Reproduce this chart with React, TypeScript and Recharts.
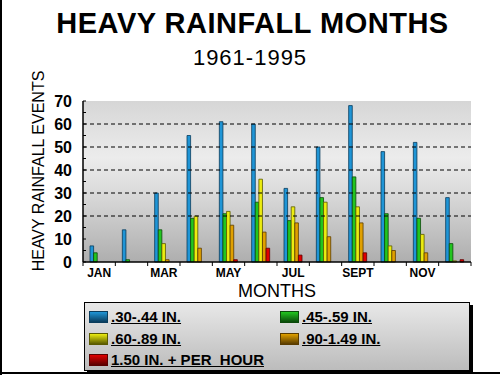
import React from 'react';
import { BarChart, Bar, XAxis, YAxis, CartesianGrid, ReferenceLine } from 'recharts';

// datos
const months = ['JAN', 'FEB', 'MAR', 'APR', 'MAY', 'JUN', 'JUL', 'AUG', 'SEPT', 'OCT', 'NOV', 'DEC'];
const in030 = [7, 14, 30, 55, 61, 60, 32, 50, 68, 48, 52, 28];
const in045 = [4, 1, 14, 19, 21, 26, 18, 28, 37, 21, 19, 8];
const in060 = [0, 0, 8, 20, 22, 36, 24, 26, 24, 7, 12, 0.5];
const in090 = [0, 0, 1, 6, 16, 13, 17, 11, 17, 5, 4, 0];
const in150 = [0, 0, 0, 0, 1, 6, 3, 0, 4, 0, 0, 1];
const yTicks = [0, 5, 10, 15, 20, 25, 30, 35, 40, 45, 50, 55, 60, 65, 70];
const gridLines = [20, 30, 40, 50, 60];

const series = [
  { key: 'a', label: '.30-.44 IN.', fill: '#1f95d6', stroke: '#0a3c5c', values: in030 },
  { key: 'b', label: '.45-.59 IN.', fill: '#22c51f', stroke: '#0b4a0a', values: in045 },
  { key: 'c', label: '.60-.89 IN.', fill: '#ecec10', stroke: '#5a5a00', values: in060 },
  { key: 'd', label: '.90-1.49 IN.', fill: '#e0a000', stroke: '#5a3c00', values: in090 },
  { key: 'e', label: '1.50 IN. + PER  HOUR', fill: '#e00000', stroke: '#5a0000', values: in150 },
];

const chartData = months.map((m, i) => {
  const row: any = { month: m };
  series.forEach(s => { row[s.key] = s.values[i]; });
  return row;
});

const W = 500;
const H = 375;
const margin = { top: 101, right: 29, left: 43, bottom: 83 };
const Y_W = 40;
const X_H = 30;
const halfBand = (W - margin.left - Y_W - margin.right) / months.length / 2;

const font = 'Liberation Sans, Arial, sans-serif';

const YTick = (props: any) => {
  const { x, y, payload } = props;
  const axisX = x + 11;
  const major = payload.value % 10 === 0;
  return (
    <g>
      <line x1={axisX} x2={axisX + 3} y1={y} y2={y} stroke="#000" />
      {major && (
        <text x={x} y={y} dy={6} textAnchor="end" fontFamily={font} fontWeight="bold" fontSize={16} fill="#000">
          {payload.value}
        </text>
      )}
    </g>
  );
};

const XTick = (props: any) => {
  const { x, y, payload, index } = props;
  const axisY = y - 6;
  return (
    <g>
      <line x1={x - halfBand} x2={x - halfBand} y1={axisY} y2={axisY + 4} stroke="#000" />
      {index === months.length - 1 && (
        <line x1={x + halfBand} x2={x + halfBand} y1={axisY} y2={axisY + 4} stroke="#000" />
      )}
      {index % 2 === 0 && (
        <text x={x} y={axisY} dy={15} textAnchor="middle" fontFamily={font} fontWeight="bold" fontSize={12} fill="#000">
          {payload.value}
        </text>
      )}
    </g>
  );
};

export default function App() {
  return (
    <div style={{ position: 'absolute', left: 0, top: 0, width: W, height: H, background: '#fff', fontFamily: font, overflow: 'hidden' }}>
      {/* marco */}
      <div style={{ position: 'absolute', left: 0, top: 0, width: 2, height: H, background: '#000' }} />
      <div style={{ position: 'absolute', left: 0, top: 372, width: W, height: 2, background: '#000' }} />

      <div style={{ position: 'absolute', left: 0, top: 6, width: 505, textAlign: 'center', fontSize: 29, fontWeight: 'bold', letterSpacing: 0.5, lineHeight: '34px' }}>
        HEAVY RAINFALL MONTHS
      </div>
      <div style={{ position: 'absolute', left: 0, top: 45, width: 500, textAlign: 'center', fontSize: 22, letterSpacing: 1, lineHeight: '26px' }}>
        1961-1995
      </div>

      <div style={{ position: 'absolute', left: 0, top: 0 }}>
        <BarChart width={W} height={H} data={chartData} margin={margin} barCategoryGap="22%" barGap={0}>
          <defs>
            <linearGradient id="bg" x1="0" y1="0" x2="0" y2="1">
              <stop offset="0%" stopColor="#d6d6d6" />
              <stop offset="35%" stopColor="#ececec" />
              <stop offset="55%" stopColor="#dcdcdc" />
              <stop offset="100%" stopColor="#aeaeae" />
            </linearGradient>
          </defs>
          <CartesianGrid horizontal={false} vertical={false} fill="url(#bg)" />
          {gridLines.map(v => (
            <ReferenceLine key={v} y={v} stroke="#000" strokeDasharray="4 3" />
          ))}
          <XAxis
            dataKey="month"
            height={X_H}
            interval={0}
            tickSize={4}
            tickMargin={2}
            tickLine={false}
            axisLine={{ stroke: '#000', strokeWidth: 1.5 }}
            tick={<XTick />}
          />
          <XAxis xAxisId="top" orientation="top" dataKey="month" height={0} tick={false} tickLine={false} axisLine={{ stroke: '#000' }} />
          <YAxis
            width={Y_W}
            domain={[0, 70]}
            ticks={yTicks}
            interval={0}
            tickSize={6}
            tickMargin={5}
            tickLine={false}
            axisLine={{ stroke: '#000', strokeWidth: 1.5 }}
            tick={<YTick />}
          />
          <YAxis yAxisId="right" orientation="right" width={0} domain={[0, 70]} tick={false} tickLine={false} axisLine={{ stroke: '#000' }} />
          {series.map(s => (
            <Bar key={s.key} dataKey={s.key} fill={s.fill} stroke={s.stroke} strokeWidth={0.8} barSize={3.6} isAnimationActive={false} />
          ))}
        </BarChart>
      </div>

      {/* etiqueta eje Y */}
      <div style={{ position: 'absolute', left: 39, top: 171, width: 0, height: 0 }}>
        <div style={{ position: 'absolute', transform: 'translate(-50%, -50%) rotate(-90deg)', whiteSpace: 'nowrap', fontSize: 16, lineHeight: '18px' }}>
          HEAVY RAINFALL EVENTS
        </div>
      </div>
      <div style={{ position: 'absolute', left: 83, top: 281, width: 388, textAlign: 'center', fontSize: 18, lineHeight: '20px' }}>
        MONTHS
      </div>

      {/* leyenda */}
      <div style={{ position: 'absolute', left: 84, top: 302, width: 384, height: 67, border: '1px solid #000', boxShadow: '3px 3px 0 #000', background: 'linear-gradient(#e8e8e8, #bcbcbc)' }}>
        {series.map((s, i) => {
          const col = i % 2;
          const row = Math.floor(i / 2);
          return (
            <div key={s.key} style={{ position: 'absolute', left: col === 0 ? 4 : 195, top: 6 + row * 21.5, display: 'flex', alignItems: 'center', whiteSpace: 'pre' }}>
              <div style={{ width: 19, height: 12, background: `linear-gradient(${s.fill}, ${s.stroke})`, border: `1px solid ${s.stroke}`, boxSizing: 'border-box', marginRight: 3 }} />
              <span style={{ fontSize: 15, fontWeight: 'bold', textDecoration: 'underline', lineHeight: '16px' }}>{s.label}</span>
            </div>
          );
        })}
      </div>
    </div>
  );
}
